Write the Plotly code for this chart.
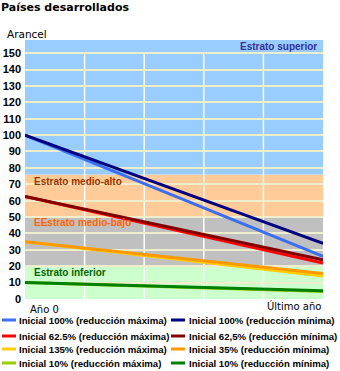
import plotly.graph_objects as go

# Tariff paths for developed countries: start value and final value per scenario
periods = [0, 5]
period_labels = ["Año 0", "Último año"]

series_names = [
    "Inicial 100% (reducción máxima)",
    "Inicial 100% (reducción mínima)",
    "Inicial 62.5% (reducción máxima)",
    "Inicial 62,5% (reducción mínima)",
    "Inicial 135% (reducción máxima)",
    "Inicial 35% (reducción mínima)",
    "Inicial 10% (reducción máxima)",
    "Inicial 10% (reducción mínima)",
]
tariff_100_max = [100, 26]
tariff_100_min = [100, 34]
tariff_625_max = [62.5, 22]
tariff_625_min = [62.5, 24]
tariff_35_max = [35, 14]
tariff_35_min = [35, 15.5]
tariff_10_max = [10, 4.5]
tariff_10_min = [10, 5]
series_values = [tariff_100_max, tariff_100_min, tariff_625_max, tariff_625_min,
                 tariff_35_max, tariff_35_min, tariff_10_max, tariff_10_min]
series_colors = ["#3C6EF0", "#000080", "#FF0000", "#800000",
                 "#FFCC00", "#FF9900", "#99CC00", "#008000"]

# Tariff strata (lower bound, upper bound, fill, label, label colour)
band_edges = [0, 20, 50, 76, 158]
band_fills = ["#CCFFCC", "#C0C0C0", "#FFCC99", "#99CCFF"]
band_labels = ["Estrato inferior", "EEstrato medio-bajo", "Estrato medio-alto", "Estrato superior"]
band_label_colors = ["#006600", "#FF6600", "#993300", "#333399"]
band_label_y = [15.9, 46.4, 71.4, 154]

y_ticks = list(range(0, 151, 10))

W, H = 340, 371
ML, MR, MT, MB = 25, 17, 40, 72
PW, PH = W - ML - MR, H - MT - MB


def px_x(px):
    return (px - ML) / PW


def px_y(py):
    return (H - MB - py) / PH


fig = go.Figure()

for name, vals, col in zip(series_names, series_values, series_colors):
    fig.add_trace(go.Scatter(x=periods, y=vals, mode="lines", name=name,
                             line=dict(color=col, width=3), showlegend=False))

shapes = []
for lo, hi, fill in zip(band_edges[:-1], band_edges[1:], band_fills):
    shapes.append(dict(type="rect", xref="paper", yref="y", x0=0, x1=1, y0=lo, y1=hi,
                       fillcolor=fill, line=dict(width=0), layer="below"))
# vertical guide lines only across the scaled range
for xv in [1, 2, 3, 4]:
    shapes.append(dict(type="line", xref="x", yref="y", x0=xv, x1=xv, y0=0, y1=150,
                       line=dict(color="white", width=1.5), layer="below"))

label_font = "Liberation Sans"
annotations = []
for lab, col, yv in zip(band_labels, band_label_colors, band_label_y):
    right = lab == "Estrato superior"
    annotations.append(dict(x=px_x(319) if right else px_x(32), y=yv, xref="paper", yref="y",
                            text=f"<b>{lab}</b>", showarrow=False,
                            xanchor="right" if right else "left", yanchor="middle",
                            font=dict(family=label_font, size=10, color=col)))

# period labels under the plot
annotations.append(dict(x=px_x(28), y=px_y(309), xref="paper", yref="paper", text=period_labels[0],
                        showarrow=False, xanchor="left", yanchor="middle",
                        font=dict(family="DejaVu Sans", size=10, color="black")))
annotations.append(dict(x=1, y=px_y(306), xref="paper", yref="paper", text=period_labels[1],
                        showarrow=False, xanchor="right", yanchor="middle",
                        font=dict(family="DejaVu Sans", size=10, color="black")))

# title and axis caption
annotations.append(dict(x=px_x(-1), y=px_y(7), xref="paper", yref="paper", text="<b>Países desarrollados</b>",
                        showarrow=False, xanchor="left", yanchor="middle",
                        font=dict(family="DejaVu Sans", size=11, color="black")))
annotations.append(dict(x=px_x(5), y=px_y(34), xref="paper", yref="paper", text="Arancel",
                        showarrow=False, xanchor="left", yanchor="middle",
                        font=dict(family="DejaVu Sans", size=10.5, color="black")))

# legend: two columns, four rows
row_y = [320, 336, 349, 363]
col_x = [(2, 16, 17), (171, 185, 187)]
for i, (name, col) in enumerate(zip(series_names, series_colors)):
    r, c = i // 2, i % 2
    x0, x1, xt = col_x[c]
    yp = px_y(row_y[r])
    shapes.append(dict(type="line", xref="paper", yref="paper", x0=px_x(x0), x1=px_x(x1), y0=yp, y1=yp,
                       line=dict(color=col, width=3)))
    annotations.append(dict(x=px_x(xt), y=yp, xref="paper", yref="paper", text=f"<b>{name}</b>",
                            showarrow=False, xanchor="left", yanchor="middle",
                            font=dict(family=label_font, size=9.6, color="black")))

fig.update_layout(
    width=W, height=H,
    margin=dict(l=ML, r=MR, t=MT, b=MB, pad=0, autoexpand=False),
    paper_bgcolor="white", plot_bgcolor="white",
    shapes=shapes, annotations=annotations,
    showlegend=False,
    xaxis=dict(range=[0, 5], showgrid=False, zeroline=False, showticklabels=False,
               showline=False, fixedrange=True, automargin=False),
    yaxis=dict(range=[0, 158], tickvals=y_ticks, showgrid=True, gridcolor="#EEEECC", gridwidth=2,
               zeroline=False, showline=False, ticks="", ticklabelstandoff=3, automargin=False,
               tickfont=dict(family="Liberation Sans", size=11, color="black", weight="bold"),
               fixedrange=True),
)

fig.write_html("out.html")
